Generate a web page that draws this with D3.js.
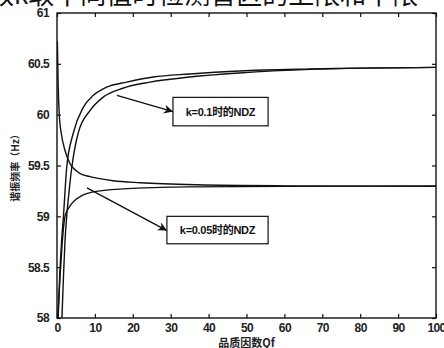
<!DOCTYPE html>
<html>
<head>
<meta charset="utf-8">
<script src="https://cdn.jsdelivr.net/npm/d3@7"></script>
<style>
  body { margin: 0; background: #fff; }
  svg { display: block; }
</style>
</head>
<body>
<script>
// curves (Qf, frequency in Hz)
const upper1Q = [0.3, 0.7, 1.2, 1.7, 2.56, 4.3, 6.9, 9.6, 13.1, 18.4, 25.4, 35, 48, 67, 100];
const upper1F = [58.0, 58.4, 58.75, 59.0, 59.48, 59.82, 60.07, 60.19, 60.27, 60.32, 60.37, 60.4, 60.43, 60.45, 60.465];
const upper2Q = [1.3, 1.7, 2.1, 2.56, 3.2, 3.9, 5.6, 8.7, 12.1, 17.4, 24.5, 35, 48, 67, 100];
const upper2F = [58.0, 58.4, 58.75, 59.0, 59.25, 59.48, 59.82, 60.04, 60.17, 60.26, 60.32, 60.37, 60.41, 60.445, 60.465];
const lowerQ = [0.2, 0.8, 1.3, 2.1, 2.6, 3.4, 4.2, 6.9, 9.5, 17.4, 35, 60, 100];
const lowerF = [58.0, 58.4, 58.7, 59.0, 59.05, 59.1, 59.14, 59.21, 59.24, 59.27, 59.29, 59.295, 59.3];
const decQ = [0.1, 0.3, 0.6, 1.2, 2.1, 3.4, 5, 6.1, 8.7, 14.8, 22, 37, 60, 100];
const decF = [60.72, 60.3, 60.0, 59.8, 59.65, 59.52, 59.45, 59.42, 59.39, 59.35, 59.33, 59.31, 59.3, 59.295];

const xTicks = [0, 10, 20, 30, 40, 50, 60, 70, 80, 90, 100];
const yTicks = [58, 58.5, 59, 59.5, 60, 60.5, 61];

const notes = ['k=0.1时的NDZ', 'k=0.05时的NDZ'];
const noteFrom = [[15.8, 60.19], [7.9, 59.28]];
const noteTo = [[30.6, 60.03], [29, 58.86]];
const noteBox = [[30.6, 55.7, 60.17, 59.89], [29, 55.7, 59.0, 58.73]];

const width = 444;
const height = 348;
const m = { left: 57, right: 8, top: 13, bottom: 30 };

const svg = d3.select('body')
  .append('svg')
    .attr('width', width)
    .attr('height', height);

const x = d3.scaleLinear().domain([0, 100]).range([m.left, width - m.right]);
const y = d3.scaleLinear().domain([58, 61]).range([height - m.bottom, m.top]);

svg.append('defs').append('clipPath').attr('id', 'clip')
  .append('rect')
    .attr('x', m.left).attr('y', m.top)
    .attr('width', x(100) - m.left).attr('height', y(58) - m.top);

svg.append('defs').append('marker')
    .attr('id', 'head')
    .attr('viewBox', '0 0 10 10')
    .attr('refX', 10).attr('refY', 5)
    .attr('markerWidth', 9).attr('markerHeight', 9)
    .attr('markerUnits', 'userSpaceOnUse')
    .attr('orient', 'auto')
  .append('path')
    .attr('d', 'M0,0 L10,5 L0,10 L3,5 Z')
    .attr('fill', '#111');

// clipped caption from the page above
svg.append('text')
  .attr('x', -12).attr('y', 4)
  .attr('font-family', 'Noto Sans CJK SC')
  .attr('font-size', 26)
  .attr('fill', '#111')
  .text('数k取不同值时检测盲区的上限和下限');

const tickFont = '"Liberation Sans", Arial, sans-serif';

// axes with inward ticks on all four sides
const axB = svg.append('g').attr('transform', `translate(0,${y(58)})`)
  .call(d3.axisBottom(x).tickValues(xTicks).tickSize(-4).tickPadding(5).tickFormat(d3.format('d')));
const axT = svg.append('g').attr('transform', `translate(0,${y(61)})`)
  .call(d3.axisTop(x).tickValues(xTicks).tickSize(-4).tickFormat(''));
const axL = svg.append('g').attr('transform', `translate(${x(0)},0)`)
  .call(d3.axisLeft(y).tickValues(yTicks).tickSize(-4).tickPadding(8).tickFormat(d => d));
const axR = svg.append('g').attr('transform', `translate(${x(100)},0)`)
  .call(d3.axisRight(y).tickValues(yTicks).tickSize(-4).tickFormat(''));

[axB, axT, axL, axR].forEach(g => {
  g.select('.domain').remove();
  g.selectAll('line').attr('stroke', '#111').attr('stroke-width', 1.2);
  g.selectAll('text')
    .attr('font-family', tickFont)
    .attr('font-size', 12)
    .attr('font-weight', 'bold')
    .attr('letter-spacing', -0.6)
    .attr('fill', '#222');
});

svg.append('rect')
  .attr('x', x(0)).attr('y', y(61))
  .attr('width', x(100) - x(0)).attr('height', y(58) - y(61))
  .attr('fill', 'none').attr('stroke', '#111').attr('stroke-width', 1.4);

// curves
const line = d3.line()
  .x(d => x(d[0]))
  .y(d => y(d[1]))
  .curve(d3.curveMonotoneX);

const series = [
  d3.zip(upper1Q, upper1F),
  d3.zip(upper2Q, upper2F),
  d3.zip(lowerQ, lowerF),
  d3.zip(decQ, decF)
];

svg.append('g').attr('clip-path', 'url(#clip)')
  .selectAll('path')
  .data(series)
  .enter()
  .append('path')
    .attr('d', line)
    .attr('fill', 'none')
    .attr('stroke', '#111')
    .attr('stroke-width', 1.4);

// annotations
notes.forEach((t, i) => {
  const b = noteBox[i];
  svg.append('line')
    .attr('x1', x(noteFrom[i][0])).attr('y1', y(noteFrom[i][1]))
    .attr('x2', x(noteTo[i][0])).attr('y2', y(noteTo[i][1]))
    .attr('stroke', '#111').attr('stroke-width', 1.4)
    .attr('marker-end', 'url(#head)');
  svg.append('rect')
    .attr('x', x(b[0])).attr('y', y(b[2]))
    .attr('width', x(b[1]) - x(b[0])).attr('height', y(b[3]) - y(b[2]))
    .attr('fill', '#fff').attr('stroke', '#111').attr('stroke-width', 1.2);
  svg.append('text')
    .attr('x', (x(b[0]) + x(b[1])) / 2)
    .attr('y', (y(b[2]) + y(b[3])) / 2 + 4)
    .attr('text-anchor', 'middle')
    .attr('font-family', '"Liberation Sans", "Noto Sans CJK SC", sans-serif')
    .attr('font-size', 11)
    .attr('font-weight', 'bold')
    .attr('letter-spacing', -0.3)
    .attr('fill', '#111')
    .text(t);
});

// axis titles
svg.append('text')
  .attr('x', x(50)).attr('y', 347)
  .attr('text-anchor', 'middle')
  .attr('font-family', '"Noto Sans CJK SC", sans-serif')
  .attr('font-size', 11)
  .attr('font-weight', 'bold')
  .attr('fill', '#222')
  .text('品质因数Qf');

svg.append('text')
  .attr('transform', `translate(19,${y(59.5)}) rotate(-90)`)
  .attr('text-anchor', 'middle')
  .attr('font-family', '"Noto Sans CJK SC", sans-serif')
  .attr('font-size', 10)
  .attr('font-weight', 'bold')
  .attr('fill', '#222')
  .text('谐振频率（Hz）');
</script>
</body>
</html>
